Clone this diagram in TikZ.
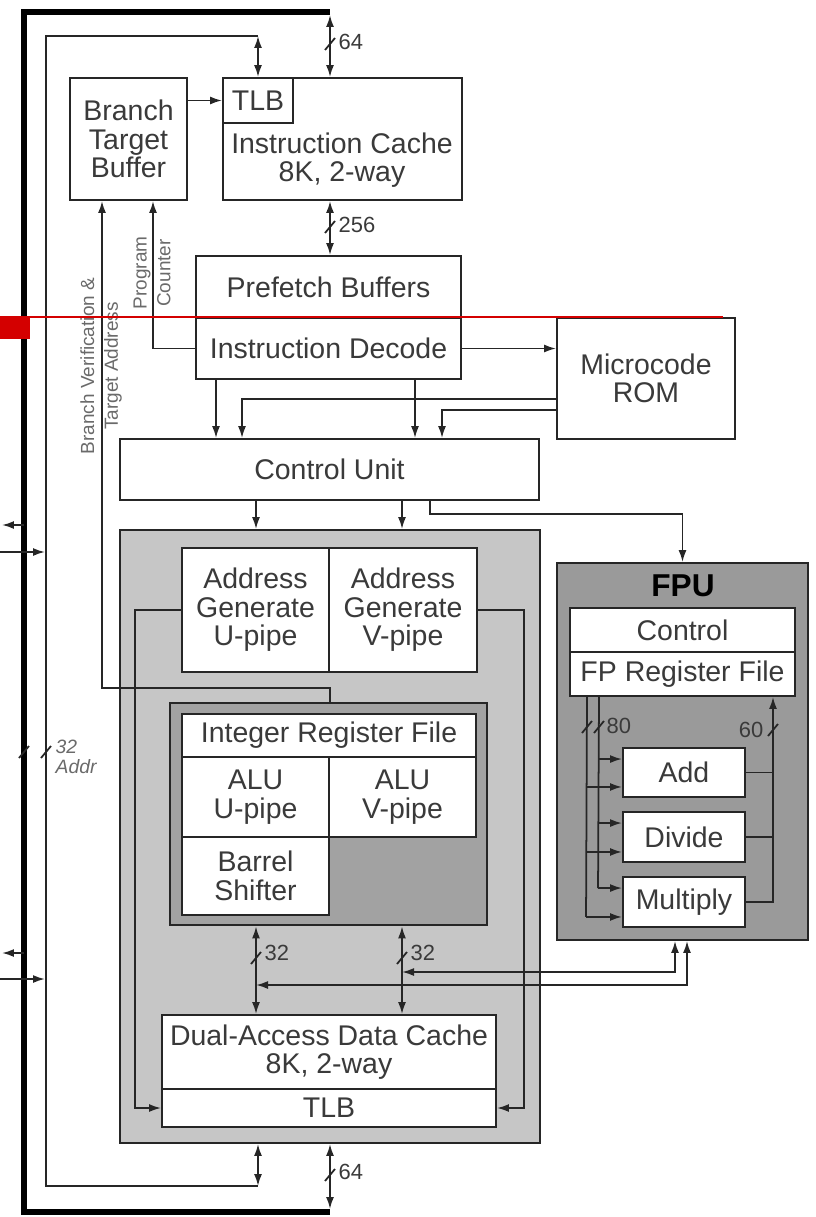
\documentclass[tikz,border=0pt]{standalone}
\usepackage{fontspec}
\setmainfont{Liberation Sans}
\usetikzlibrary{arrows.meta, positioning, calc}
\definecolor{cline}{HTML}{262626}
\definecolor{ctext}{HTML}{3A3A3A}
\definecolor{clabel}{HTML}{6A6A6A}
\definecolor{cframe}{HTML}{C6C6C6}
\definecolor{cblock}{HTML}{A2A2A2}
\definecolor{cfpu}{HTML}{9A9A9A}
\definecolor{cred}{HTML}{D40000}
\tikzset{
  every picture/.style={line width=1.1pt},
  txt/.style={text=ctext, align=center, font=\fontsize{16.2}{16.2}\selectfont},
  dims/.style 2 args={minimum width=#1*0.02cm, minimum height=#2*0.02cm},
  box/.style={txt, draw=cline, fill=white, inner sep=0pt},
  area/.style={draw=cline, fill=#1, inner sep=0pt},
  link/.style={draw=cline, line width=1pt, >={Latex[length=2.4mm, width=1.6mm]}},
  bus/.style={draw=black, line width=3.4pt},
  buslbl/.style={text=ctext, inner sep=1pt, font=\fontsize{12.5}{13}\selectfont},
  sidelbl/.style={text=clabel, align=center, rotate=90, inner sep=0pt, font=\fontsize{10.8}{13.5}\selectfont},
  widthmark/.pic={\draw[link] (-5,6) -- (5,-6);},
}

\begin{document}
\begin{tikzpicture}[x=0.02cm, y=-0.02cm]
  \useasboundingbox (0,0) rectangle (815,1217);
  % shaded units
  \node[area=cframe, dims={420}{613}] (intu) at (330,836.5) {};
  \node[area=cblock, line width=1.6pt, dims={317}{222}] (intblk) at (328.5,814) {};
  \node[area=cfpu, dims={251}{377}] (fpu) at (682.5,751.5) {};

  % front end
  \node[box, dims={117}{122}] (btb) at (128.5,139) {Branch\\Target\\Buffer};
  \node[box, dims={239}{122}] (icache) at (342.5,139) {};
  \node[box, dims={70}{45}] (itlb) at (258,100.5) {TLB};
  \node[txt] (icachetxt) at (342,160) {Instruction Cache\\8K, 2-way};
  \node[box, dims={265}{62}] (pfb) at (328.5,287) {Prefetch Buffers};
  \node[box, dims={265}{61}] (idec) at (328.5,348.5) {Instruction Decode};
  \node[box, dims={178}{121}] (urom) at (646,378.5) {Microcode\\ROM};
  \node[box, dims={419}{61}] (cu) at (329.5,469.5) {Control Unit};

  % integer pipes
  \node[box, dims={147}{124}] (agu) at (255.5,610) {Address\\Generate\\U-pipe};
  \node[box, dims={148}{124}] (agv) at (403,610) {Address\\Generate\\V-pipe};
  \node[box, dims={294}{43}] (irf) at (329,735.5) {Integer Register File};
  \node[box, dims={147}{80}] (aluu) at (255.5,797) {ALU\\U-pipe};
  \node[box, dims={147}{80}] (aluv) at (402.5,797) {ALU\\V-pipe};
  \node[box, dims={147}{78}] (bsh) at (255.5,876) {Barrel\\Shifter};
  \node[box, dims={334}{74}] (dcache) at (329,1052) {Dual-Access Data Cache\\8K, 2-way};
  \node[box, dims={334}{38}] (dtlb) at (329,1108) {TLB};

  % floating point unit
  \node[txt, text=black, font=\fontsize{18}{18}\selectfont\bfseries] (fputitle) at (683,586) {FPU};
  \node[box, dims={225}{44}] (fctl) at (682.5,630) {Control};
  \node[box, dims={225}{44}] (fprf) at (682.5,674) {FP Register File};
  \node[box, dims={122}{49}] (fadd) at (684,772.5) {Add};
  \node[box, dims={122}{50}] (fdiv) at (684,837) {Divide};
  \node[box, dims={122}{50}] (fmul) at (684,902) {Multiply};

  % buses along the left edge
  \coordinate (dtop) at (330,12);
  \coordinate (dbot) at (330,1212);
  \coordinate (atop) at (258,36);
  \coordinate (abot) at (258,1186);
  \draw[bus] (dtop) -- (24,12) -- (24,1212) -- (dbot);
  \draw[link] (atop) -| (46,1186) -- (abot);
  \draw[link, <->] ($(dtop)+(0,3)$) -- (dtop |- icache.north);
  \draw[link, <->] (atop) -- (itlb.north);
  \draw[link, <->] ($(dbot)+(0,-3)$) -- (dbot |- intu.south);
  \draw[link, <->] (abot) -- (abot |- intu.south);
  \coordinate (xo1) at (2,525);
  \coordinate (xi1) at (0,552);
  \coordinate (xo2) at (2,953);
  \coordinate (xi2) at (0,979);
  \draw[link, <-] (xo1) -- ++(22,0);
  \draw[link, ->] (xi1) -- ++(45,0);
  \draw[link, <-] (xo2) -- ++(22,0);
  \draw[link, ->] (xi2) -- ++(45,0);
  \pic at (24,752) {widthmark};
  \pic at (46,752) {widthmark};
  \node[buslbl, anchor=west, text=clabel, align=left, font=\fontsize{11}{11.5}\selectfont\itshape] (waddr) at (53,757) {32\\Addr};

  % front end connections
  \draw[link, ->] (btb.east |- itlb.west) -- (itlb.west);
  \draw[link, <->] (330,0 |- icache.south) -- (330,0 |- pfb.north);
  \pic at (330,44) {widthmark};
  \node[buslbl, anchor=west] (w64a) at (336,42) {64};
  \pic at (330,227) {widthmark};
  \node[buslbl, anchor=west] (w256) at (336,225) {256};
  \draw[link, ->] (idec.east) -- (idec.east -| urom.west);
  \draw[link, <-] (153,0 |- btb.south) |- (idec.west);
  \coordinate (bvbend) at (330,688);
  \draw[link, <-] (102,0 |- btb.south) |- (bvbend) -- (bvbend |- intblk.north);
  \node[sidelbl] (bvlbl) at (101,366) {Branch Verification \&\\Target Address};
  \node[sidelbl] (pclbl) at (152,273) {Program\\Counter};

  % decode and microcode into the control unit
  \coordinate (rom1) at (557,399);
  \coordinate (rom2) at (557,410);
  \draw[link, ->] (rom1) -| (242,0 |- cu.north);
  \draw[link, ->] (rom2) -| (442,0 |- cu.north);
  \foreach \x in {216,415}
    \draw[link, ->] (\x,0 |- idec.south) -- (\x,0 |- cu.north);
  \foreach \x in {256,402}
    \draw[link, ->] (\x,0 |- cu.south) -- (\x,0 |- intu.north);
  \draw[link, ->] (430,0 |- cu.south) -- ++(0,13) -| (fpu.north);

  % address generators to the data TLB
  \draw[link, ->] (agu.west) -- ++(-46,0) |- (dtlb.west);
  \draw[link, ->] (agv.east) -- ++(46,0) |- (dtlb.east);

  % integer unit to the data cache
  \foreach \x in {256,402} {
    \draw[link, <->] (\x,0 |- intblk.south) -- (\x,0 |- dcache.north);
    \pic at (\x,958) {widthmark};
  }
  \node[buslbl, anchor=west] (w32u) at (262,953) {32};
  \node[buslbl, anchor=west] (w32v) at (408,953) {32};
  \pic at (330,1175) {widthmark};
  \node[buslbl, anchor=west] (w64b) at (336,1172) {64};

  % FPU to the data paths
  \coordinate (vtap) at (402,972);
  \coordinate (utap) at (256,985);
  \draw[link, <->] (675,0 |- fpu.south) |- (vtap);
  \draw[link, <->] (687,0 |- fpu.south) |- (utap);

  % FPU internals
  \foreach \b in {fadd,fdiv,fmul} {
    \draw[link, ->] ($(\b.north west)+(-24,12)$) -- ++(24,0);
    \draw[link, ->] ($(\b.south west)+(-36,-11)$) -- ++(36,0);
  }
  \draw[link] (599,0 |- fprf.south) -- ($(fmul.north west)+(-24,12)$);
  \draw[link] (587,0 |- fprf.south) -- ($(fmul.south west)+(-36,-11)$);
  \foreach \b in {fadd,fdiv}
    \draw[link] (\b.east) -- ++(28,0);
  \draw[link, ->] (fmul.east) -| (773,0 |- fprf.south);
  \pic at (587,727) {widthmark};
  \pic at (599,727) {widthmark};
  \node[buslbl, anchor=west] (w80) at (604,726) {80};
  \pic at (773,730) {widthmark};
  \node[buslbl, anchor=east] (w60) at (766,730) {60};

  % red rule across the page
  \draw[cred, line width=1.2pt] (0,317) -- (723,317);
  \fill[cred] (0,317) rectangle (30,339);
\end{tikzpicture}
\end{document}
